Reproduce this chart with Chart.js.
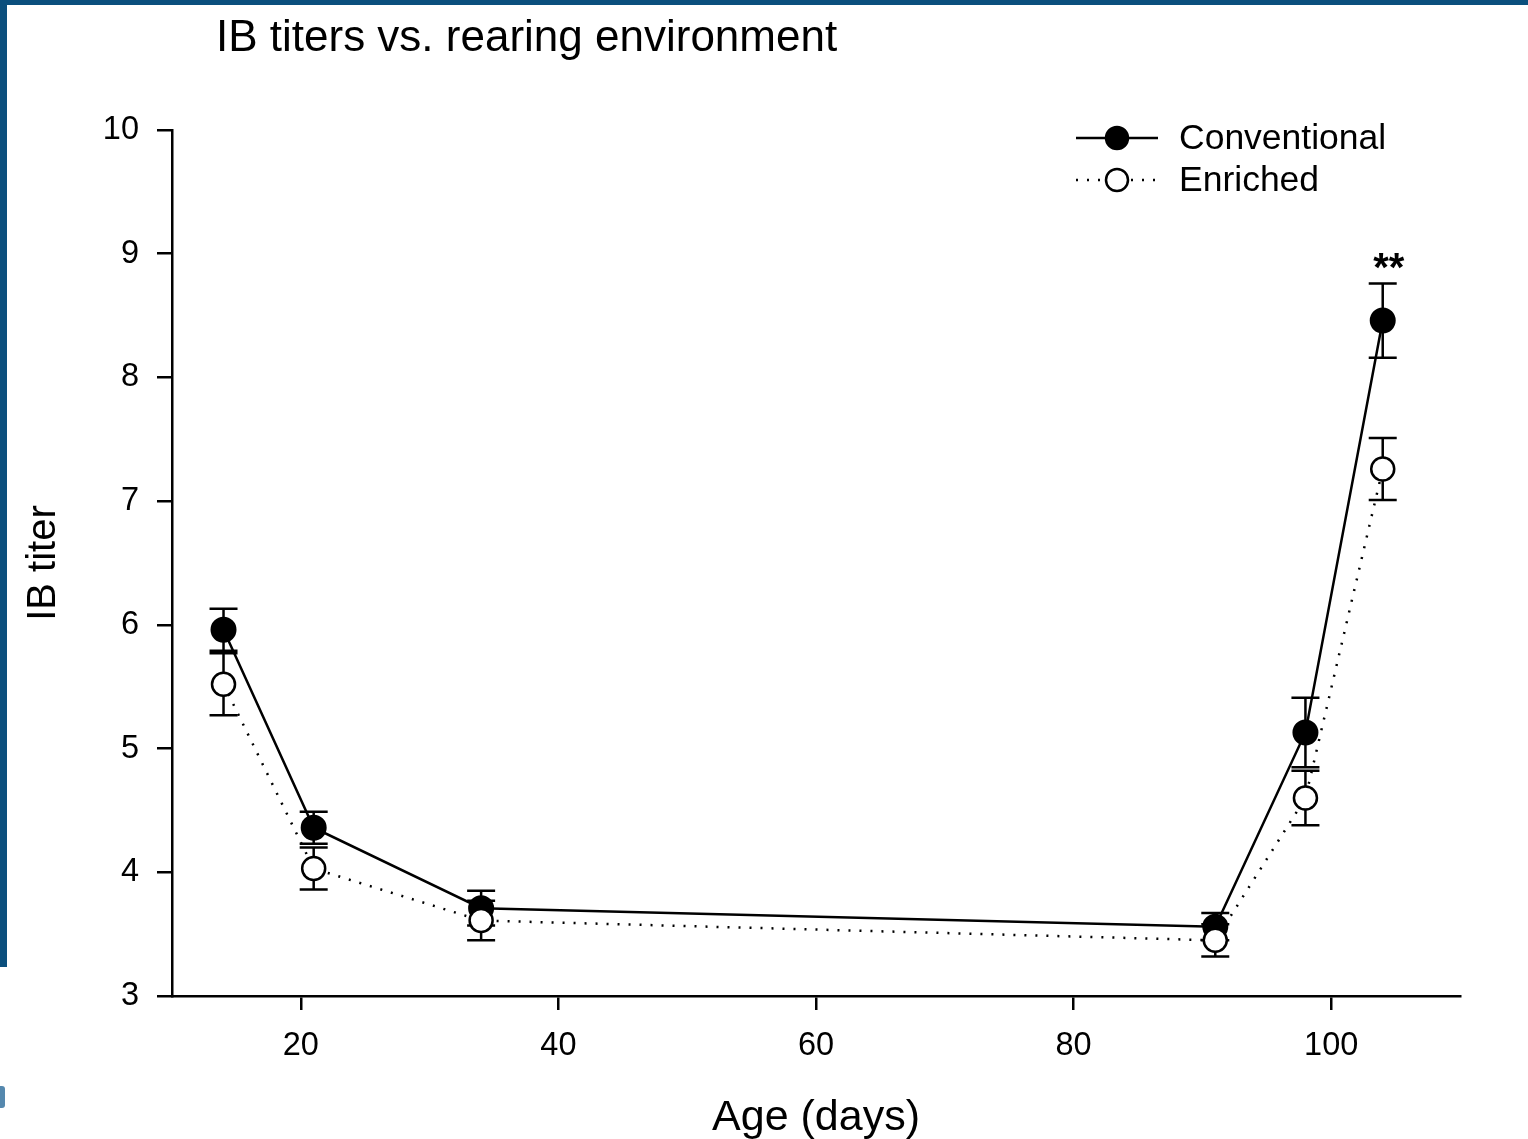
<!DOCTYPE html>
<html>
<head>
<meta charset="utf-8">
<script src="https://cdn.jsdelivr.net/npm/chart.js@4.4.1/dist/chart.umd.min.js"></script>
<style>
  html, body { margin: 0; padding: 0; background: #fff; }
  #wrap { position: relative; width: 1528px; height: 1139px; overflow: hidden; }
  #topBar { position: absolute; left: 0; top: 0; width: 1528px; height: 5px; background: #0b4f7d; }
  #leftBar { position: absolute; left: 0; top: 0; width: 7px; height: 967px; background: #0b4f7d; }
  #logoBit { position: absolute; left: 0; top: 1086px; width: 5px; height: 22px; background: #2a6a9a; border-radius: 0 3px 3px 0; opacity: 0.8; }
  canvas { position: absolute; left: 0; top: 0; }
</style>
</head>
<body>
<div id="wrap">
  <canvas id="chart" width="1528" height="1139"></canvas>
  <div id="topBar"></div>
  <div id="leftBar"></div>
  <div id="logoBit"></div>
</div>
<script>
const ages = [14, 21, 34, 91, 98, 104];
const conventional = [5.96, 4.36, 3.71, 3.56, 5.13, 8.46];
const conventionalErr = [0.17, 0.13, 0.14, 0.11, 0.28, 0.30];
const enriched = [5.52, 4.03, 3.61, 3.45, 4.60, 7.26];
const enrichedErr = [0.25, 0.17, 0.16, 0.13, 0.22, 0.25];
const xTicks = [20, 40, 60, 80, 100];
const yTicks = [3, 4, 5, 6, 7, 8, 9, 10];
const annotation = { x: 104, y: 8.93, text: '**' };

const FONT = '"Liberation Sans", Arial, sans-serif';

function toPoints(values) {
  return ages.map((a, i) => ({ x: a, y: values[i] }));
}

const errorBars = {
  id: 'errorBars',
  beforeDatasetsDraw(chart) {
    const { ctx } = chart;
    const yScale = chart.scales.y;
    const sets = [conventionalErr, enrichedErr];
    ctx.save();
    ctx.strokeStyle = '#000';
    ctx.lineWidth = 2.5;
    chart.data.datasets.forEach((ds, di) => {
      const meta = chart.getDatasetMeta(di);
      meta.data.forEach((pt, i) => {
        const v = ds.data[i].y;
        const e = sets[di][i];
        const top = yScale.getPixelForValue(v + e);
        const bot = yScale.getPixelForValue(v - e);
        ctx.beginPath();
        ctx.moveTo(pt.x, top);
        ctx.lineTo(pt.x, bot);
        ctx.moveTo(pt.x - 14, top);
        ctx.lineTo(pt.x + 14, top);
        ctx.moveTo(pt.x - 14, bot);
        ctx.lineTo(pt.x + 14, bot);
        ctx.stroke();
      });
    });
    ctx.restore();
  },
};

const decorations = {
  id: 'decorations',
  afterDraw(chart) {
    const { ctx } = chart;
    ctx.save();
    ctx.fillStyle = '#000';
    ctx.textBaseline = 'middle';

    // title
    ctx.font = '44px ' + FONT;
    ctx.textAlign = 'left';
    ctx.fillText('IB titers vs. rearing environment', 216, 39);

    // significance marks
    ctx.font = 'bold 40px ' + FONT;
    ctx.textAlign = 'center';
    ctx.fillText(annotation.text, chart.scales.x.getPixelForValue(annotation.x) + 6,
      chart.scales.y.getPixelForValue(annotation.y) + 8);

    // legend
    const rows = [
      { label: 'Conventional', y: 138, dash: [], fill: '#000' },
      { label: 'Enriched', y: 180, dash: [2, 9], fill: '#fff' },
    ];
    rows.forEach((r) => {
      ctx.strokeStyle = '#000';
      ctx.lineWidth = 2.5;
      ctx.setLineDash(r.dash);
      ctx.beginPath();
      ctx.moveTo(1076, r.y);
      ctx.lineTo(1158, r.y);
      ctx.stroke();
      ctx.setLineDash([]);
      ctx.beginPath();
      ctx.arc(1117, r.y, 11, 0, Math.PI * 2);
      ctx.fillStyle = r.fill;
      ctx.fill();
      ctx.stroke();
      ctx.fillStyle = '#000';
      ctx.font = '35.5px ' + FONT;
      ctx.textAlign = 'left';
      ctx.fillText(r.label, 1179, r.y + 1);
    });
    ctx.restore();
  },
};

new Chart(document.getElementById('chart'), {
  type: 'line',
  data: {
    datasets: [
      {
        label: 'Conventional',
        data: toPoints(conventional),
        borderColor: '#000',
        borderWidth: 2.5,
        pointRadius: 12,
        pointBackgroundColor: '#000',
        pointBorderColor: '#000',
        pointBorderWidth: 2,
        tension: 0,
        order: 2,
      },
      {
        label: 'Enriched',
        data: toPoints(enriched),
        borderColor: '#000',
        borderWidth: 2.5,
        borderDash: [2, 9],
        pointRadius: 11.5,
        pointBackgroundColor: '#fff',
        pointBorderColor: '#000',
        pointBorderWidth: 2.5,
        tension: 0,
        order: 1,
      },
    ],
  },
  options: {
    responsive: false,
    animation: false,
    layout: { padding: { top: 130, right: 68, left: 0, bottom: 0 } },
    plugins: {
      legend: { display: false },
      title: { display: false },
      tooltip: { enabled: false },
    },
    scales: {
      x: {
        type: 'linear',
        min: 10,
        max: 110,
        afterBuildTicks: (scale) => { scale.ticks = xTicks.map((v) => ({ value: v })); },
        afterFit: (scale) => { scale.height = 143; },
        border: { display: true, color: '#000', width: 2.5 },
        grid: { drawOnChartArea: false, drawTicks: true, tickLength: 14, color: '#000', lineWidth: 2.5 },
        ticks: { color: '#000', font: { family: FONT, size: 32.5 }, padding: 17, maxRotation: 0 },
        title: {
          display: true,
          text: 'Age (days)',
          color: '#000',
          font: { family: FONT, size: 43, lineHeight: 0.9 },
          padding: { top: 0, bottom: 2 },
        },
      },
      y: {
        type: 'linear',
        min: 3,
        max: 10,
        afterBuildTicks: (scale) => { scale.ticks = yTicks.map((v) => ({ value: v })); },
        afterFit: (scale) => { scale.width = 172; },
        border: { display: true, color: '#000', width: 2.5 },
        grid: { drawOnChartArea: false, drawTicks: true, tickLength: 15, color: '#000', lineWidth: 2.5 },
        ticks: { color: '#000', font: { family: FONT, size: 32.5 }, padding: 18 },
        title: {
          display: true,
          text: 'IB titer',
          color: '#000',
          font: { family: FONT, size: 40 },
          padding: { top: 20, bottom: 0 },
        },
      },
    },
  },
  plugins: [errorBars, decorations],
});
</script>
</body>
</html>
